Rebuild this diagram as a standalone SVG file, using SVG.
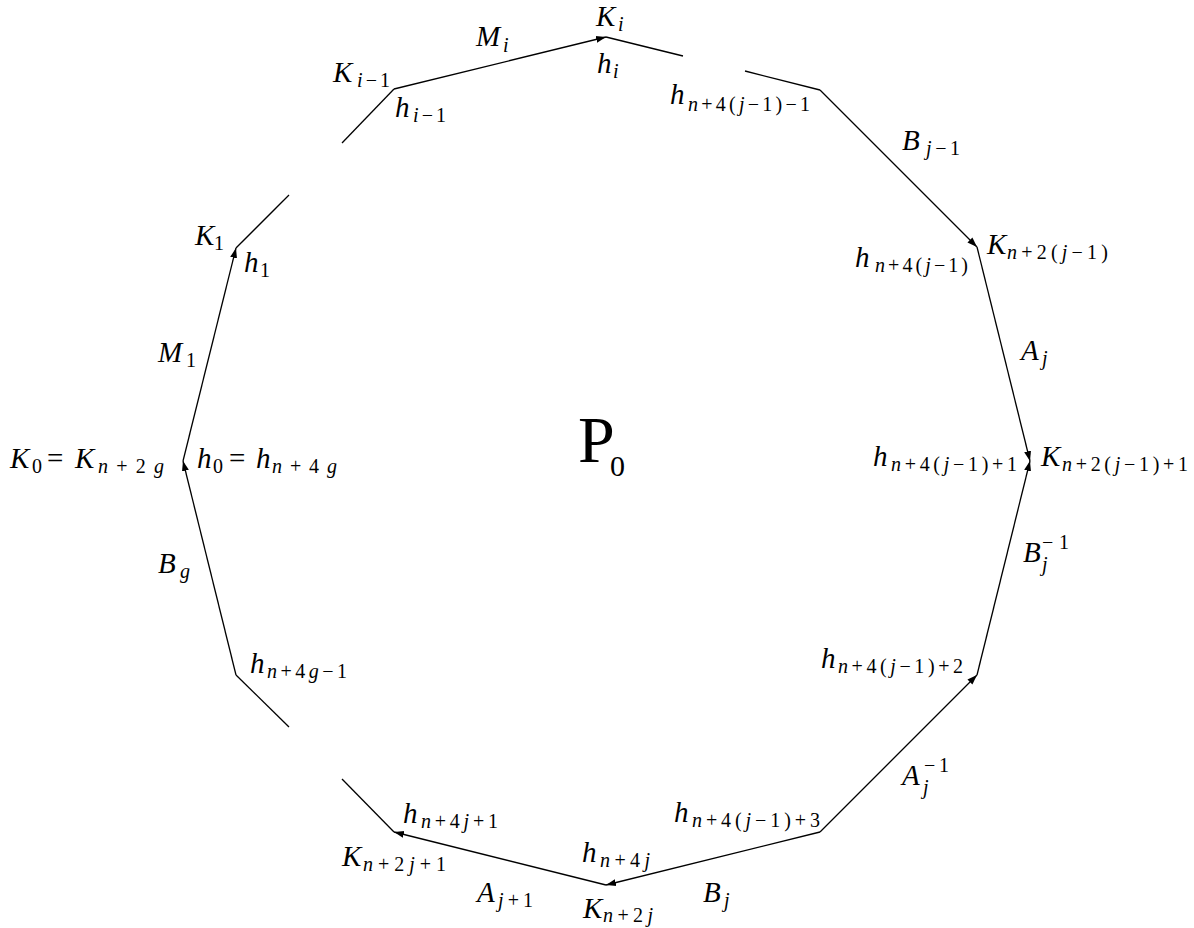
<svg xmlns="http://www.w3.org/2000/svg" width="1194" height="928" viewBox="0 0 1194 928">
<style>
.t{font-family:"Liberation Serif","Times New Roman",serif;font-size:29px;fill:#000}
.i{font-style:italic}
.s{font-size:20px}
.e{fill:none;stroke:#000;stroke-width:1.3}
.a{marker-end:url(#arr)}
.big{font-size:66px}
.p0{font-size:30px}
</style>
<defs>
<marker id="arr" markerWidth="10" markerHeight="8" refX="10" refY="4" orient="auto" markerUnits="userSpaceOnUse">
<path d="M0,0.5 L10,4 L0,7.5 z" fill="#000"/>
</marker>
</defs>
<rect width="1194" height="928" fill="#fff"/>
<g id="connectors">
<line class="e a" x1="394" y1="89" x2="606" y2="37"/>
<line class="e" x1="606" y1="37" x2="683" y2="56"/>
<line class="e" x1="745" y1="71" x2="820" y2="90"/>
<line class="e a" x1="820" y1="90" x2="977" y2="247"/>
<line class="e a" x1="977" y1="247" x2="1030" y2="461"/>
<line class="e a" x1="977" y1="675" x2="1030" y2="461"/>
<line class="e a" x1="820" y1="832" x2="977" y2="675"/>
<line class="e a" x1="820" y1="832" x2="606" y2="885"/>
<line class="e a" x1="606" y1="885" x2="394" y2="832"/>
<line class="e" x1="394" y1="832" x2="342" y2="779"/>
<line class="e" x1="289" y1="727" x2="236" y2="675"/>
<line class="e a" x1="236" y1="675" x2="183" y2="461"/>
<line class="e a" x1="183" y1="461" x2="236" y2="248"/>
<line class="e" x1="236" y1="248" x2="289" y2="195"/>
<line class="e" x1="342" y1="143" x2="394" y2="89"/>
</g>
<g id="P0"><text class="t big" x="578" y="462">P<tspan class="p0" x="610" y="476">0</tspan></text></g>
<g id="Mi"><text class="t" x="476" y="46"><tspan class="i">M</tspan><tspan class="s i" x="503" y="52">i</tspan></text></g>
<g id="Ki"><text class="t" x="596" y="26"><tspan class="i">K</tspan><tspan class="s i" x="618" y="31">i</tspan></text></g>
<g id="hi"><text class="t" x="597" y="73"><tspan class="i">h</tspan><tspan class="s i" x="613" y="78">i</tspan></text></g>
<g id="Ki-1"><text class="t" x="333" y="82"><tspan class="i">K</tspan><tspan class="s" x="357" y="87" textLength="33"><tspan class="i">i</tspan>−1</tspan></text></g>
<g id="hi-1"><text class="t" x="395" y="117"><tspan class="i">h</tspan><tspan class="s" x="413" y="122" textLength="33"><tspan class="i">i</tspan>−1</tspan></text></g>
<g id="h-n4j1-1"><text class="t" x="670" y="104"><tspan class="i">h</tspan><tspan class="s" x="688" y="111" textLength="122"><tspan class="i">n</tspan>+4(<tspan class="i">j</tspan>−1)−1</tspan></text></g>
<g id="Bj-1"><text class="t" x="902" y="150"><tspan class="i">B</tspan><tspan class="s" x="926" y="155" textLength="34"><tspan class="i">j</tspan>−1</tspan></text></g>
<g id="K-n2j1"><text class="t" x="987" y="254"><tspan class="i">K</tspan><tspan class="s" x="1007" y="259" textLength="101"><tspan class="i">n</tspan>+2(<tspan class="i">j</tspan>−1)</tspan></text></g>
<g id="h-n4j1"><text class="t" x="855" y="267"><tspan class="i">h</tspan><tspan class="s" x="875" y="272" textLength="93"><tspan class="i">n</tspan>+4(<tspan class="i">j</tspan>−1)</tspan></text></g>
<g id="Aj"><text class="t" x="1021" y="360"><tspan class="i">A</tspan><tspan class="s i" x="1042" y="365">j</tspan></text></g>
<g id="h-n4j1+1"><text class="t" x="873" y="466"><tspan class="i">h</tspan><tspan class="s" x="891" y="471" textLength="126"><tspan class="i">n</tspan>+4(<tspan class="i">j</tspan>−1)+1</tspan></text></g>
<g id="K-n2j1+1"><text class="t" x="1041" y="466"><tspan class="i">K</tspan><tspan class="s" x="1062" y="471" textLength="126"><tspan class="i">n</tspan>+2(<tspan class="i">j</tspan>−1)+1</tspan></text></g>
<g id="Bj-inv"><text class="t" x="1023" y="562"><tspan class="i">B</tspan><tspan class="s" x="1042" y="549" textLength="27">−1</tspan><tspan class="s i" x="1042" y="571">j</tspan></text></g>
<g id="h-n4j1+2"><text class="t" x="821" y="668"><tspan class="i">h</tspan><tspan class="s" x="838" y="673" textLength="125"><tspan class="i">n</tspan>+4(<tspan class="i">j</tspan>−1)+2</tspan></text></g>
<g id="Aj-inv"><text class="t" x="902" y="785"><tspan class="i">A</tspan><tspan class="s" x="924" y="772" textLength="25">−1</tspan><tspan class="s i" x="923" y="794">j</tspan></text></g>
<g id="h-n4j1+3"><text class="t" x="674" y="822"><tspan class="i">h</tspan><tspan class="s" x="692" y="827" textLength="128"><tspan class="i">n</tspan>+4(<tspan class="i">j</tspan>−1)+3</tspan></text></g>
<g id="h-n4j+1"><text class="t" x="403" y="823"><tspan class="i">h</tspan><tspan class="s" x="421" y="828" textLength="77"><tspan class="i">n</tspan>+4<tspan class="i">j</tspan>+1</tspan></text></g>
<g id="K-n2j+1"><text class="t" x="342" y="866"><tspan class="i">K</tspan><tspan class="s" x="363" y="871" textLength="83"><tspan class="i">n</tspan>+2<tspan class="i">j</tspan>+1</tspan></text></g>
<g id="h-n4j"><text class="t" x="582" y="862"><tspan class="i">h</tspan><tspan class="s" x="600" y="867" textLength="50"><tspan class="i">n</tspan>+4<tspan class="i">j</tspan></tspan></text></g>
<g id="Aj+1"><text class="t" x="477" y="902"><tspan class="i">A</tspan><tspan class="s" x="498" y="907" textLength="35"><tspan class="i">j</tspan>+1</tspan></text></g>
<g id="K-n2j"><text class="t" x="583" y="918"><tspan class="i">K</tspan><tspan class="s" x="603" y="922" textLength="50"><tspan class="i">n</tspan>+2<tspan class="i">j</tspan></tspan></text></g>
<g id="Bj"><text class="t" x="703" y="902"><tspan class="i">B</tspan><tspan class="s i" x="724" y="907">j</tspan></text></g>
<g id="K1"><text class="t" x="195" y="245"><tspan class="i">K</tspan><tspan class="s" x="214" y="250">1</tspan></text></g>
<g id="h1"><text class="t" x="244" y="272"><tspan class="i">h</tspan><tspan class="s" x="260" y="277">1</tspan></text></g>
<g id="M1"><text class="t" x="158" y="362"><tspan class="i">M</tspan><tspan class="s" x="186" y="367">1</tspan></text></g>
<g id="K0"><text class="t" x="10" y="468"><tspan class="i">K</tspan><tspan class="s" x="32" y="473">0</tspan><tspan x="47" y="468">=</tspan><tspan class="i" x="75" y="468">K</tspan><tspan class="s" x="98" y="473" textLength="66"><tspan class="i">n</tspan>+2<tspan class="i">g</tspan></tspan></text></g>
<g id="h0"><text class="t" x="197" y="468"><tspan class="i">h</tspan><tspan class="s" x="213" y="473">0</tspan><tspan x="229" y="468">=</tspan><tspan class="i" x="256" y="468">h</tspan><tspan class="s" x="272" y="473" textLength="65"><tspan class="i">n</tspan>+4<tspan class="i">g</tspan></tspan></text></g>
<g id="Bg"><text class="t" x="158" y="573"><tspan class="i">B</tspan><tspan class="s i" x="180" y="578">g</tspan></text></g>
<g id="h-n4g-1"><text class="t" x="250" y="673"><tspan class="i">h</tspan><tspan class="s" x="267" y="678" textLength="80"><tspan class="i">n</tspan>+4<tspan class="i">g</tspan>−1</tspan></text></g>
</svg>
